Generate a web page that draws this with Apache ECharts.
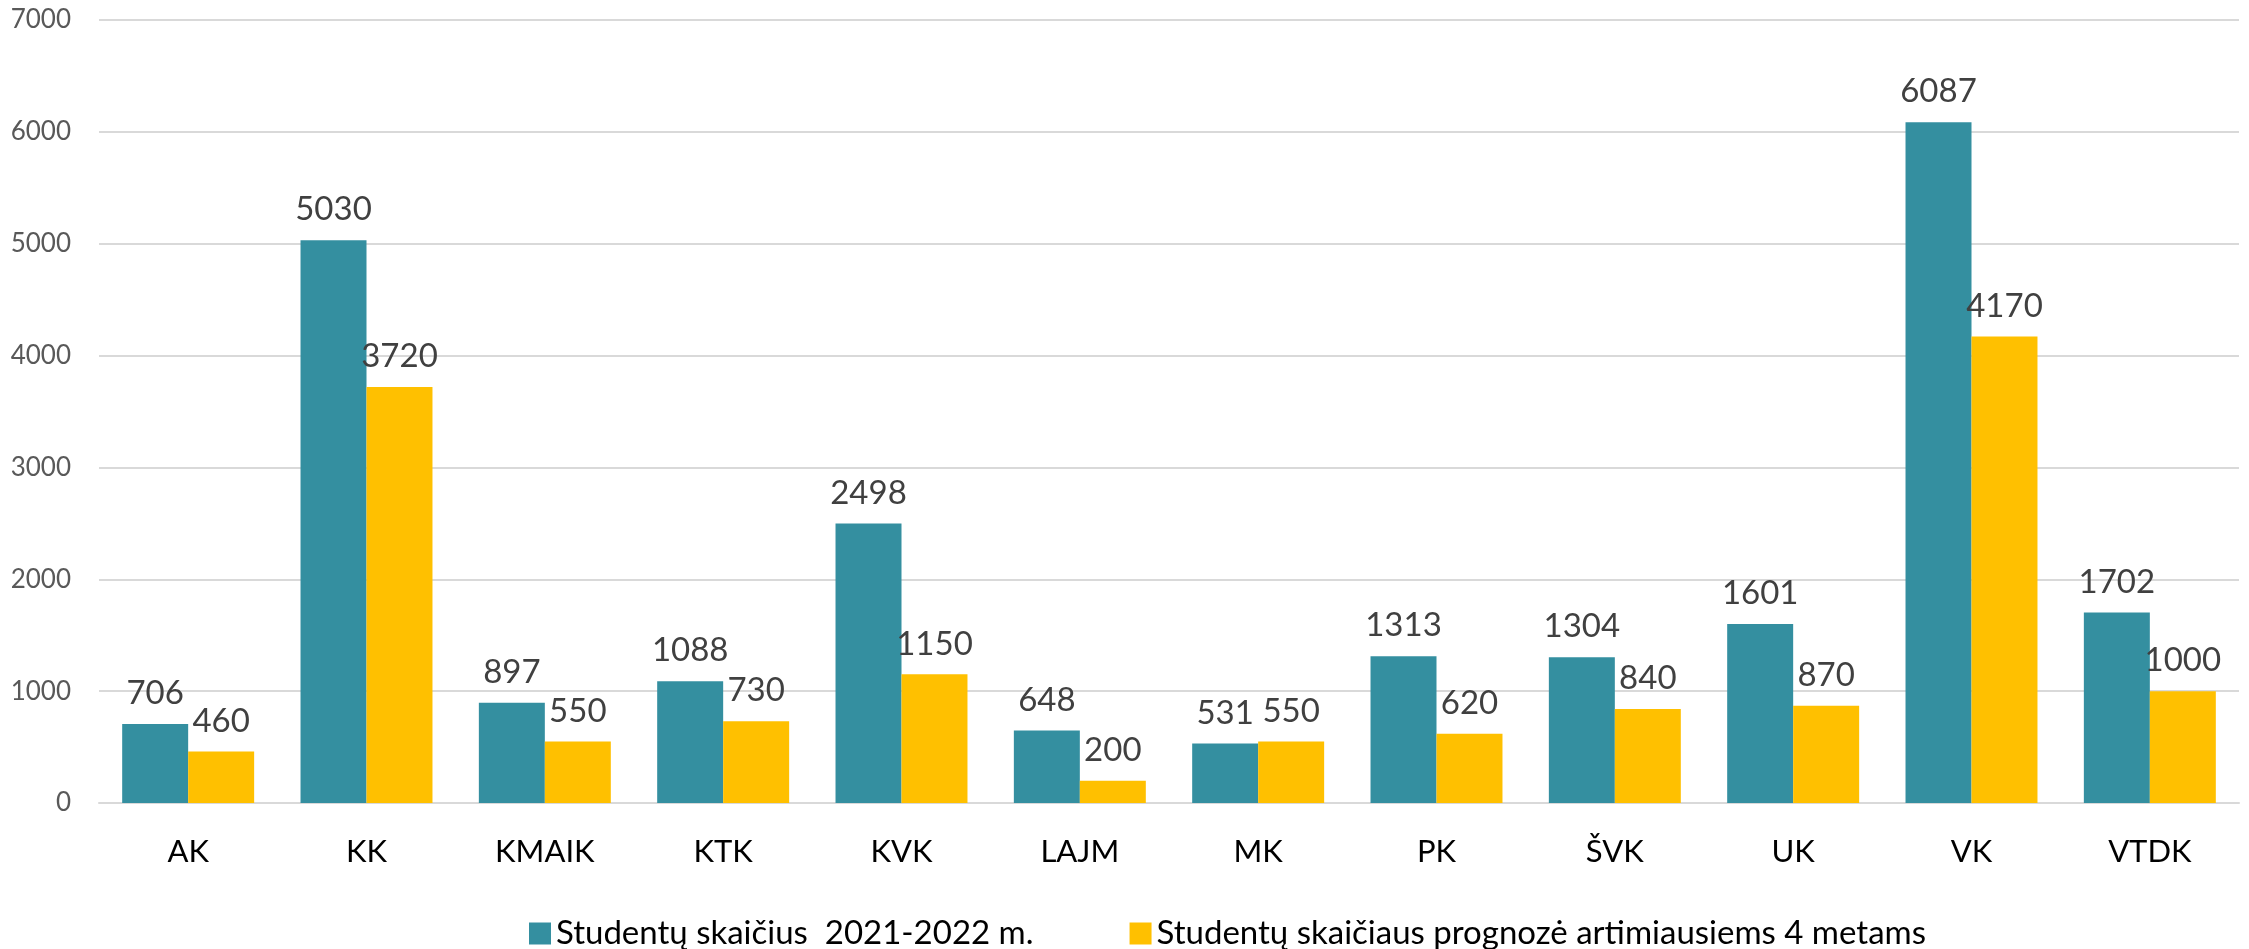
<!DOCTYPE html>
<html>
<head>
<meta charset="utf-8">
<script src="https://cdn.jsdelivr.net/npm/echarts@6/dist/echarts.min.js"></script>
<style>
html,body{margin:0;padding:0;background:#fff;}
#chart{width:2249px;height:949px;}
</style>
</head>
<body>
<div id="chart"></div>
<script>
const categories = ['AK','KK','KMAIK','KTK','KVK','LAJM','MK','PK','ŠVK','UK','VK','VTDK'];
const seriesNames = ['Studentų skaičius  2021-2022 m.', 'Studentų skaičiaus prognozė artimiausiems 4 metams'];
const current = [706,5030,897,1088,2498,648,531,1313,1304,1601,6087,1702];
const forecast = [460,3720,550,730,1150,200,550,620,840,870,4170,1000];
const yTicks = {min:0, max:7000, interval:1000};

const FONT = 'Lato';
const chart = echarts.init(document.getElementById('chart'), null, {renderer:'canvas'});
const labelStyle = {show:true, position:'top', distance:14, fontFamily:FONT, fontSize:33, color:'#404040'};
chart.setOption({
  animation:false,
  textStyle:{fontFamily:FONT},
  grid:{left:99, right:10, top:20, bottom:146, containLabel:false},
  legend:{
    left:524, top:912, itemWidth:22, itemHeight:22, itemGap:96,
    icon:'rect',
    textStyle:{fontFamily:FONT, fontSize:33, color:'#000'},
    data:seriesNames
  },
  xAxis:{
    type:'category', data:categories,
    axisLine:{show:true, lineStyle:{color:'#d9d9d9', width:2}},
    axisTick:{show:false},
    axisLabel:{fontFamily:FONT, fontSize:31, color:'#000', margin:33}
  },
  yAxis:{
    type:'value', min:yTicks.min, max:yTicks.max, interval:yTicks.interval,
    axisLine:{show:false}, axisTick:{show:false},
    splitLine:{lineStyle:{color:'#d9d9d9', width:2}},
    axisLabel:{fontFamily:FONT, fontSize:26, color:'#595959', margin:28, formatter:v => String(v)}
  },
  series:[
    {name:seriesNames[0], type:'bar', data:current, barGap:'0%', barCategoryGap:'26%',
     itemStyle:{color:'#348FA0'}, label:labelStyle},
    {name:seriesNames[1], type:'bar', data:forecast, barGap:'0%', barCategoryGap:'26%',
     itemStyle:{color:'#FFC000'}, label:labelStyle}
  ]
});
</script>
</body>
</html>
